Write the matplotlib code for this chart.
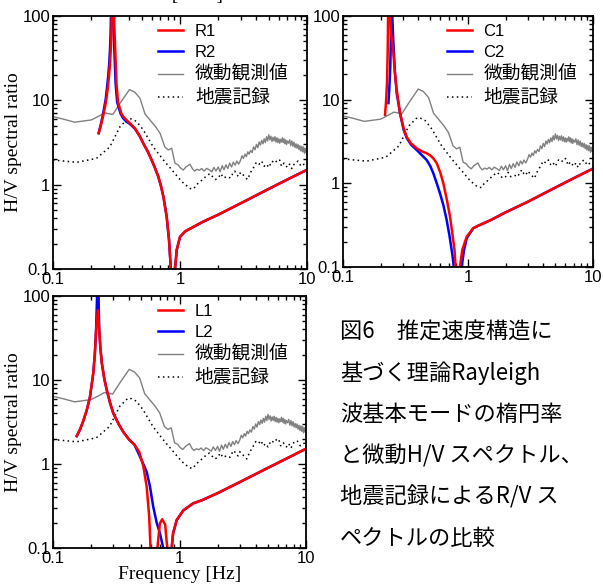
import matplotlib
matplotlib.use('Agg')
import matplotlib.pyplot as plt
from matplotlib.ticker import FixedLocator, LogLocator, NullFormatter

# observed H/V (microtremor) - same site for all three panels
obs_f = [0.10, 0.12, 0.148, 0.20, 0.23, 0.255, 0.28, 0.296, 0.337, 0.40, 0.44,
         0.484, 0.53, 0.58, 0.64, 0.697, 0.76, 0.81, 0.86, 0.914, 0.97, 1.0,
         1.06, 1.12, 1.2, 1.25, 1.3, 1.36, 1.42, 1.48, 1.55, 1.62, 1.7, 1.78,
         1.85, 1.92, 2.0, 2.07, 2.15, 2.22, 2.3, 2.38, 2.46, 2.55, 2.63, 2.72,
         2.8, 2.9, 3.0, 3.08, 3.16, 3.25, 3.33, 3.42, 3.5, 3.6, 3.7, 3.8, 3.9,
         4.0, 4.1, 4.2, 4.3, 4.4, 4.5, 4.6, 4.7, 4.8, 4.9, 5.0, 5.1, 5.2, 5.3,
         5.4, 5.5, 5.6, 5.7, 5.8, 5.9, 6.0, 6.1, 6.2, 6.3, 6.4, 6.5, 6.6, 6.7,
         6.8, 6.9, 7.0, 7.15, 7.3, 7.45, 7.6, 7.75, 7.9, 8.05, 8.2, 8.35, 8.5,
         8.65, 8.8, 8.95, 9.1, 9.25, 9.4, 9.55, 9.7, 9.85, 10.0]
obs_v = [6.4, 6.0, 5.5, 5.85, 6.5, 7.1, 6.9, 6.8, 9.2, 13.4, 12.5,
         10.6, 6.9, 5.85, 4.9, 4.06, 2.8, 2.58, 2.7, 1.79, 1.71, 1.6,
         1.49, 1.63, 1.75, 1.55, 1.45, 1.52, 1.48, 1.55, 1.45, 1.56, 1.5, 1.42,
         1.6, 1.45, 1.62, 1.42, 1.68, 1.5, 1.72, 1.55, 1.8, 1.62, 1.85, 1.7,
         1.9, 1.75, 1.95, 2.2, 2.05, 2.3, 2.15, 2.45, 2.3, 2.55, 2.4, 2.8, 2.6,
         3.0, 2.75, 3.2, 2.95, 3.35, 3.05, 3.5, 3.15, 3.7, 3.3, 3.9, 3.4, 3.75,
         3.25, 3.65, 3.3, 3.7, 3.2, 3.6, 3.15, 3.5, 3.1, 3.45, 3.2, 3.6, 3.15,
         3.5, 3.05, 3.4, 3.0, 3.3, 3.1, 3.4, 2.9, 3.3, 2.85, 3.2, 2.75, 3.05,
         2.7, 3.0, 2.6, 2.9, 2.5, 2.85, 2.45, 2.8, 2.35, 2.7, 2.4, 2.5]

# earthquake H/V (R/V)
eq_f = [0.10, 0.154, 0.22, 0.28, 0.337, 0.392, 0.417, 0.456, 0.514, 0.616, 0.74,
        0.885, 1.0, 1.06, 1.2, 1.28, 1.35, 1.44, 1.55, 1.65, 1.72, 1.8, 1.9,
        2.0, 2.1, 2.2, 2.35, 2.5, 2.6, 2.7, 2.8, 2.9, 3.0, 3.15, 3.3, 3.4,
        3.6, 3.8, 4.0, 4.2, 4.4, 4.6, 4.8, 5.0, 5.3, 5.6, 5.9, 6.1, 6.3, 6.6,
        7.0, 7.3, 7.6, 8.0, 8.5, 9.0, 9.5, 10.0]
eq_v = [1.96, 1.84, 2.05, 2.8, 4.87, 6.1, 6.0, 5.6, 4.45, 2.8, 1.96,
        1.43, 1.15, 1.05, 0.9, 0.89, 1.0, 1.08, 1.2, 1.3, 1.35, 1.25, 1.15,
        1.2, 1.35, 1.2, 1.25, 1.2, 1.35, 1.45, 1.3, 1.25, 1.4, 1.3, 1.2, 1.15,
        1.4, 1.6, 1.85, 1.75, 1.9, 1.65, 1.75, 1.6, 1.9, 1.8, 2.0, 1.95, 1.65, 1.8,
        1.6, 1.75, 1.55, 1.8, 1.9, 1.65, 1.75, 1.8]

# theoretical ellipticity, panel R
r1_f = [0.229, 0.24, 0.248, 0.256, 0.263, 0.27, 0.276, 0.281, 0.285, 0.288,
        0.290, 0.296, 0.302, 0.309, 0.316, 0.325, 0.345, 0.358, 0.38, 0.404,
        0.442, 0.48, 0.514, 0.555, 0.598, 0.635, 0.675, 0.71, 0.74, 0.785,
        0.82, 0.845, 0.858, 0.875, 0.892, 0.914, 0.942, 1.0, 1.1, 1.2, 1.5,
        2.0, 3.0, 5.0, 7.0, 10.0]
r1_v = [4.06, 5.3, 6.5, 8.2, 10.3, 14, 19.4, 27, 40, 60,
        100, 500, 100, 40, 16, 9.5, 7.0, 6.4, 5.8, 5.35,
        4.66, 3.8, 3.09, 2.5, 1.96, 1.58, 1.24, 0.95, 0.72, 0.42,
        0.22, 0.106, 0.05, 0.005, 0.05, 0.1, 0.168, 0.24, 0.28, 0.30, 0.36,
        0.44, 0.60, 0.89, 1.15, 1.5]
r2_f = [0.229, 0.239, 0.246, 0.253, 0.26, 0.266, 0.272, 0.277, 0.281, 0.284,
        0.286, 0.291, 0.297, 0.304, 0.311, 0.32, 0.34, 0.355, 0.377, 0.40,
        0.442, 0.48, 0.514, 0.555, 0.598, 0.635, 0.675, 0.71, 0.74, 0.785,
        0.82, 0.845, 0.858, 0.875, 0.892, 0.914, 0.942, 1.0, 1.1, 1.2, 1.5,
        2.0, 3.0, 5.0, 7.0, 10.0]
r2_v = [4.1, 5.3, 6.5, 8.2, 10.3, 14, 19.4, 27, 40, 60,
        100, 500, 100, 40, 16, 9.5, 7.0, 6.2, 5.6, 5.3,
        4.6, 3.8, 3.09, 2.5, 1.96, 1.58, 1.24, 0.95, 0.72, 0.42,
        0.22, 0.106, 0.05, 0.005, 0.05, 0.1, 0.168, 0.24, 0.28, 0.30, 0.36,
        0.44, 0.60, 0.89, 1.15, 1.5]

# panel C
c1_f = [0.217, 0.221, 0.225, 0.228, 0.232, 0.238, 0.243, 0.252, 0.26, 0.269,
        0.286, 0.305, 0.323, 0.35, 0.389, 0.43, 0.467, 0.5, 0.528, 0.562, 0.6,
        0.635, 0.68, 0.718, 0.75, 0.78, 0.796, 0.815, 0.835, 0.85, 0.862, 0.9,
        0.977, 1.1, 1.2, 1.5, 2.0, 3.0, 5.0, 7.0, 10.0]
c1_v = [6.6, 9.5, 16, 40, 500, 100, 60, 39, 21, 13,
        6.9, 4.6, 3.6, 3.0, 2.62, 2.4, 2.29, 2.15, 1.99, 1.74, 1.35,
        1.0, 0.62, 0.4, 0.25, 0.16, 0.1, 0.04, 0.005, 0.05, 0.1, 0.16,
        0.23, 0.29, 0.31, 0.36, 0.45, 0.60, 0.89, 1.15, 1.5]
c2_f = [0.231, 0.235, 0.239, 0.242, 0.245, 0.248, 0.252, 0.26, 0.269, 0.286,
        0.305, 0.323, 0.35, 0.389, 0.43, 0.467, 0.5, 0.528, 0.56, 0.597, 0.635,
        0.675, 0.71, 0.75, 0.77, 0.80, 0.83, 0.86, 0.89, 0.93, 0.977,
        1.1, 1.2, 1.5, 2.0, 3.0, 5.0, 7.0, 10.0]
c2_v = [9.1, 14, 25, 60, 500, 100, 55, 22, 12, 6.9,
        4.4, 3.5, 2.9, 2.5, 2.15, 1.9, 1.6, 1.32, 1.02, 0.76, 0.55,
        0.365, 0.24, 0.14, 0.1, 0.03, 0.005, 0.04, 0.1, 0.16, 0.22,
        0.29, 0.31, 0.36, 0.45, 0.60, 0.89, 1.15, 1.5]

# panel L
l1_f = [0.154, 0.164, 0.174, 0.185, 0.196, 0.208, 0.214, 0.219, 0.226, 0.232,
        0.237, 0.243, 0.254, 0.266, 0.282, 0.30, 0.33, 0.36, 0.40, 0.44, 0.48,
        0.517, 0.55, 0.576, 0.59, 0.61, 0.63, 0.65, 0.668, 0.70, 0.73, 0.77,
        0.80, 0.82, 0.835, 0.85, 0.867, 0.89, 0.95, 1.07, 1.28, 1.5, 2.0, 3.0,
        5.0, 7.0, 10.0]
l1_v = [2.15, 2.6, 3.3, 4.4, 6.3, 12, 20, 39, 68, 39,
        24, 16, 10.5, 7.6, 5.4, 4.0, 3.0, 2.4, 1.95, 1.7, 1.4,
        0.95, 0.54, 0.236, 0.1, 0.03, 0.005, 0.03, 0.1, 0.197, 0.22, 0.19,
        0.1, 0.04, 0.005, 0.04, 0.1, 0.15, 0.215, 0.28, 0.34, 0.37, 0.45, 0.61,
        0.9, 1.16, 1.52]
l2_f = [0.154, 0.164, 0.174, 0.185, 0.196, 0.208, 0.214, 0.219, 0.223, 0.226,
        0.229, 0.232, 0.237, 0.243, 0.254, 0.266, 0.282, 0.30, 0.33, 0.36, 0.40,
        0.44, 0.488, 0.55, 0.584, 0.62, 0.66, 0.70, 0.744, 0.78, 0.81, 0.84,
        0.867, 0.89, 0.95, 1.07, 1.28, 1.5, 2.0, 3.0, 5.0, 7.0, 10.0]
l2_v = [2.15, 2.6, 3.3, 4.4, 6.3, 12, 20, 39, 100, 500,
        100, 39, 24, 16, 10.5, 7.6, 5.4, 4.0, 3.0, 2.4, 1.95,
        1.7, 1.22, 0.81, 0.54, 0.31, 0.2, 0.15, 0.1, 0.04, 0.005, 0.04,
        0.1, 0.15, 0.215, 0.28, 0.34, 0.37, 0.45, 0.61, 0.9, 1.16, 1.52]

caption = ['図6　推定速度構造に', '基づく理論Rayleigh', '波基本モードの楕円率',
           'と微動H/V スペクトル、', '地震記録によるR/V ス', 'ペクトルの比較']

tick_font = {'family': ['Liberation Sans', 'DejaVu Sans'], 'size': 12}
serif = ['Liberation Serif', 'DejaVu Serif']
leg_font = {'family': ['Liberation Sans', 'Noto Sans CJK JP'], 'size': 12}

fig = plt.figure(figsize=(6.03, 5.86), dpi=100)
ax1 = fig.add_axes([0.0879, 0.5410, 0.4212, 0.4317])
ax2 = fig.add_axes([0.5688, 0.5444, 0.4146, 0.4283])
ax3 = fig.add_axes([0.0879, 0.0648, 0.4196, 0.4300])


def panel(ax, rf, rv, bf, bv, names):
    ax.plot(obs_f, obs_v, color='#808080', lw=1.0)
    ax.plot(eq_f, eq_v, color='black', lw=1.1, linestyle=(0, (1, 2.2)))
    hb, = ax.plot(bf, bv, color='#0000ff', lw=1.8)
    hr, = ax.plot(rf, rv, color='#ff0000', lw=1.8)
    ax.set_xscale('log')
    ax.set_yscale('log')
    ax.set_xlim(0.1, 10)
    ax.set_ylim(0.1, 100)
    ax.xaxis.set_major_locator(FixedLocator([0.1, 1, 10]))
    ax.yaxis.set_major_locator(FixedLocator([0.1, 1, 10, 100]))
    ax.set_xticklabels(['0.1', '1', '10'], fontdict=tick_font)
    ax.set_yticklabels(['0.1', '1', '10', '100'], fontdict=tick_font)
    ax.xaxis.set_minor_locator(LogLocator(base=10, subs=range(2, 10)))
    ax.yaxis.set_minor_locator(LogLocator(base=10, subs=range(2, 10)))
    ax.xaxis.set_minor_formatter(NullFormatter())
    ax.yaxis.set_minor_formatter(NullFormatter())
    ax.tick_params(which='both', direction='in', top=True, right=True, width=1)
    ax.tick_params(which='major', length=6, pad=2)
    ax.tick_params(which='minor', length=3)
    for s in ax.spines.values():
        s.set_linewidth(1.3)
    hg = matplotlib.lines.Line2D([], [], color='#808080', lw=1.0)
    hd = matplotlib.lines.Line2D([], [], color='black', lw=1.1, linestyle=(0, (1, 2.2)))
    leg = ax.legend([hr, hb, hg, hd], names + ['微動観測値', '地震記録'],
                    loc='upper left', bbox_to_anchor=(0.415, 0.968), frameon=False,
                    prop=leg_font, handlelength=1.5, handletextpad=0.7,
                    borderpad=0, borderaxespad=0, labelspacing=0.36)
    for t in leg.get_texts()[2:]:
        t.set_fontsize(13.5)


panel(ax1, r1_f, r1_v, r2_f, r2_v, ['R1', 'R2'])
panel(ax2, c1_f, c1_v, c2_f, c2_v, ['C1', 'C2'])
panel(ax3, l1_f, l1_v, l2_f, l2_v, ['L1', 'L2'])

ax1.set_ylabel('H/V spectral ratio', family=serif, fontsize=14)
ax3.set_ylabel('H/V spectral ratio', family=serif, fontsize=14)
ax1.yaxis.set_label_coords(-0.122, 0.5)
ax3.yaxis.set_label_coords(-0.122, 0.5)
ax3.set_xlabel('Frequency [Hz]', family=serif, fontsize=14, labelpad=0)

# axis title of the figure above, cut off at the top edge
fig.text(0.305, 1.007, 'Vs [km/s]', family=serif, fontsize=14, ha='center', va='center')

for i, line in enumerate(caption):
    fig.text(0.564, 1 - (332 + 41.2 * i) / 586, line, fontsize=16,
             family=['Noto Sans CJK JP', 'DejaVu Sans'], va='center', ha='left')

fig.savefig('out.png', dpi=100)
